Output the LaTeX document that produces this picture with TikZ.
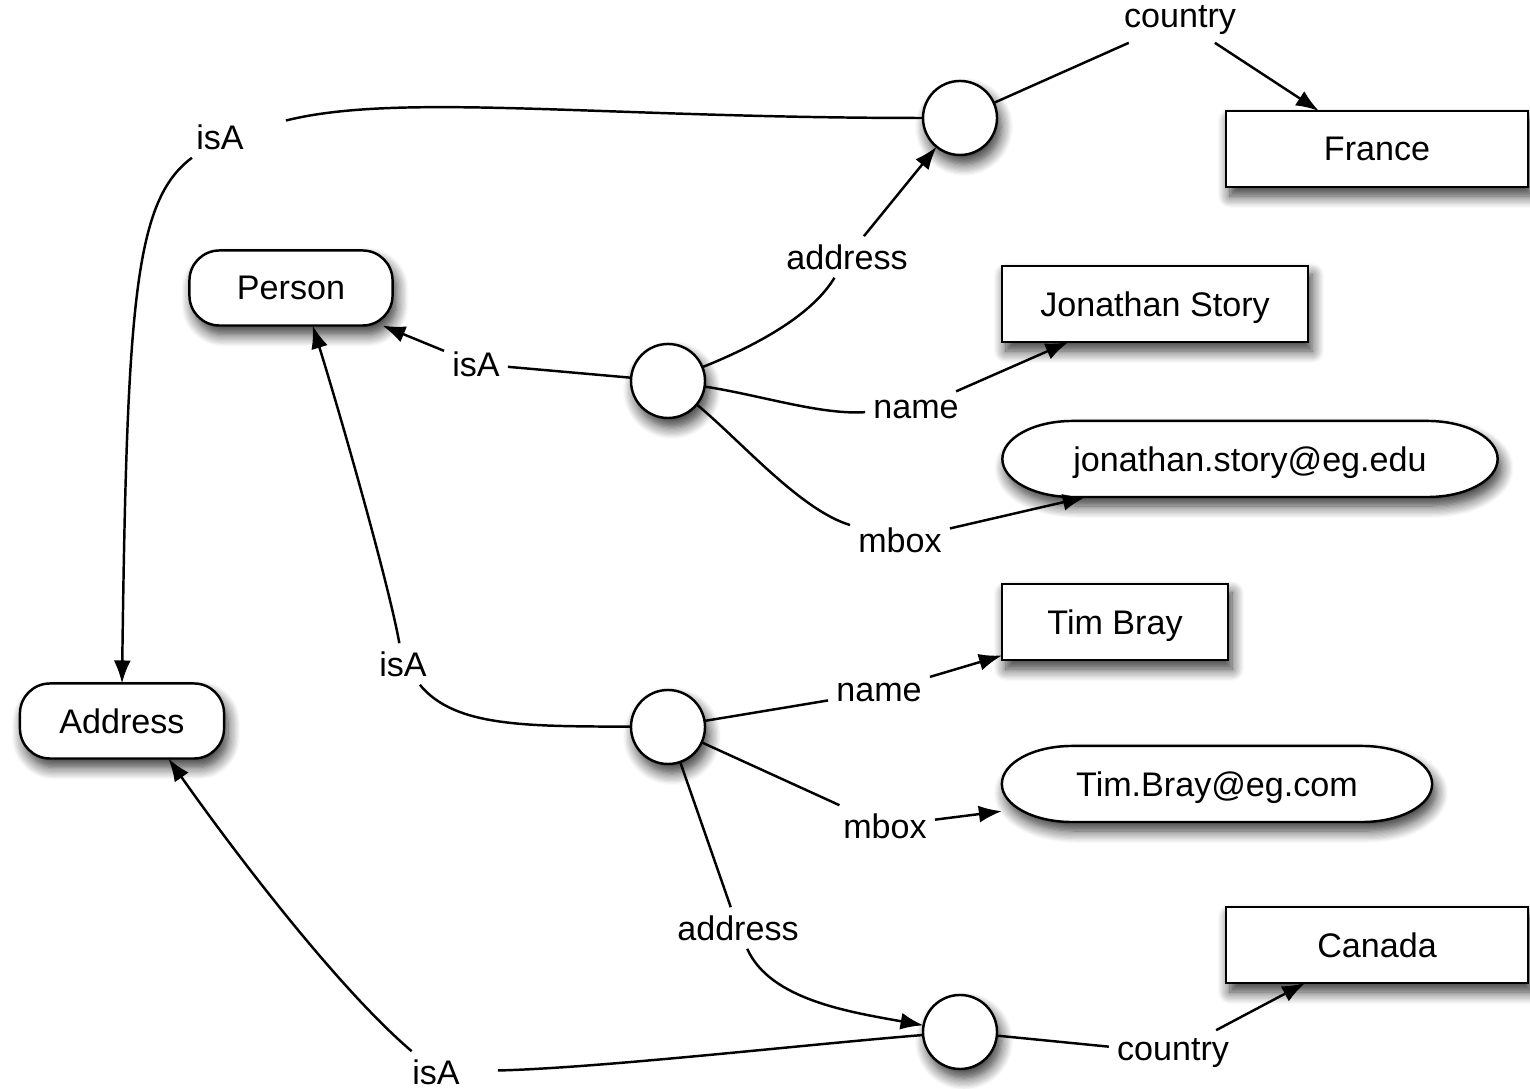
\documentclass[tikz,border=0pt]{standalone}
\usepackage{fontspec}
\setmainfont{Liberation Sans}
\usetikzlibrary{arrows.meta,shadows.blur}
\begin{document}
\begin{tikzpicture}[x=0.01cm,y=-0.01cm,
  font=\fontsize{9.7pt}{12pt}\selectfont,
  line width=0.7pt,
  >={Latex[length=0.23cm,width=0.17cm,fill=black,color=black]},
  shad/.style={blur shadow={shadow xshift=0.04cm,shadow yshift=-0.09cm,shadow blur steps=10,shadow blur radius=0.12cm,shadow opacity=80}},
  litbox/.style={rectangle,draw,fill=white,shad,minimum height=0.76cm,outer sep=0pt,inner sep=0pt,text depth=0pt},
  classbox/.style={rectangle,rounded corners=0.3cm,draw,fill=white,shad,minimum width=2.03cm,minimum height=0.75cm,outer sep=0pt,text depth=0pt},
  mailbox/.style={rectangle,minimum height=0.76cm,outer sep=0pt,inner sep=0pt,text depth=0pt},
  mailout/.style={draw,fill=white,shad},
  bnode/.style={circle,draw,fill=white,shad,minimum size=0.74cm,inner sep=0pt,outer sep=0pt},
  lbl/.style={inner sep=2pt},
  link/.style={draw=black,line width=0.7pt},
]
\useasboundingbox (0,0) rectangle (1530,1089);

% outlines of the mail nodes (drawn first, text node on top)
\draw[mailout] (1250,459) ++(-1.775cm,0.38cm) -- ++(3.55cm,0)
  arc[start angle=90,end angle=-90,x radius=0.7cm,y radius=0.38cm]
  -- ++(-3.55cm,0)
  arc[start angle=-90,end angle=-270,x radius=0.7cm,y radius=0.38cm] -- cycle;
\draw[mailout] (1217,784) ++(-1.45cm,0.38cm) -- ++(2.9cm,0)
  arc[start angle=90,end angle=-90,x radius=0.7cm,y radius=0.38cm]
  -- ++(-2.9cm,0)
  arc[start angle=-90,end angle=-270,x radius=0.7cm,y radius=0.38cm] -- cycle;

% literal boxes
\node[litbox,minimum width=3.02cm] (France) at (1377,149) {France};
\node[litbox,minimum width=3.06cm] (JS) at (1155,304) {Jonathan Story};
\node[litbox,minimum width=2.26cm] (TB) at (1115,622) {Tim Bray};
\node[litbox,minimum width=3.02cm] (Canada) at (1377,945) {Canada};

% class boxes
\node[classbox] (Person) at (291,288) {Person};
\node[classbox,minimum width=2.04cm] (Address) at (122,721) {Address};

% mail nodes
\node[mailbox,minimum width=4.95cm] (email1) at (1250,459) {jonathan.story@eg.edu};
\node[mailbox,minimum width=4.30cm] (email2) at (1217,784) {Tim.Bray@eg.com};

% blank nodes
\node[bnode] (c1) at (960,118) {};
\node[bnode] (c2) at (668,381) {};
\node[bnode] (c3) at (668,727) {};
\node[bnode] (c4) at (960,1032) {};

% labels
\node[lbl] (country1) at (1180,20) {country};
\node[lbl] (isA1) at (220,137) {isA};
\node[lbl] (addr1) at (847,257) {address};
\node[lbl] (isA2) at (476,364) {isA};
\node[lbl] (name1) at (916,409) {name};
\node[lbl] (mbox1) at (900,540) {mbox};
\node[lbl] (isA3) at (403,664) {isA};
\node[lbl] (name2) at (879,692) {name};
\node[lbl] (mbox2) at (885,826) {mbox};
\node[lbl] (addr2) at (738,928) {address};
\node[lbl] (isA4) at (436,1072) {isA};
\node[lbl] (country2) at (1173,1053) {country};

% connectors
\draw[link,->] (c1) -- (country1) -- (France);
\draw[link,shorten >=0.35cm] (c1) .. controls (600,118) and (400,92) .. (isA1);
\draw[link,->] (isA1) .. controls (135,200) and (127,300) .. (Address.north);

\draw[link] (c2) .. controls (770,340) and (815,310) .. (addr1);
\draw[link,->] (addr1) -- (c1);
\draw[link,->] (c2) -- (isA2) -- (Person);
\draw[link] (c2) .. controls (760,395) and (820,415) .. (name1);
\draw[link,->] (name1) -- (JS);
\draw[link] (c2) .. controls (740,440) and (800,510) .. (mbox1);
\draw[link,->] (mbox1) -- (email1);

\draw[link] (c3) .. controls (530,726) and (455,728) .. (isA3);
\draw[link,->] (isA3) .. controls (390,590) and (345,430) .. (Person.-60);
\draw[link] (c3) -- (name2);
\draw[link,->] (name2) -- (TB);
\draw[link] (c3) -- (mbox2);
\draw[link,->] (mbox2) -- (email2);
\draw[link] (c3) -- (addr2);
\draw[link,->] (addr2) .. controls (770,1000) and (850,1012) .. (c4);

\draw[link,shorten >=0.3cm] (c4) .. controls (800,1045) and (600,1068) .. (isA4);
\draw[link,->] (isA4) .. controls (340,990) and (240,860) .. (Address.-39);
\draw[link,->] (c4) -- (country2) -- (Canada);
\end{tikzpicture}
\end{document}
